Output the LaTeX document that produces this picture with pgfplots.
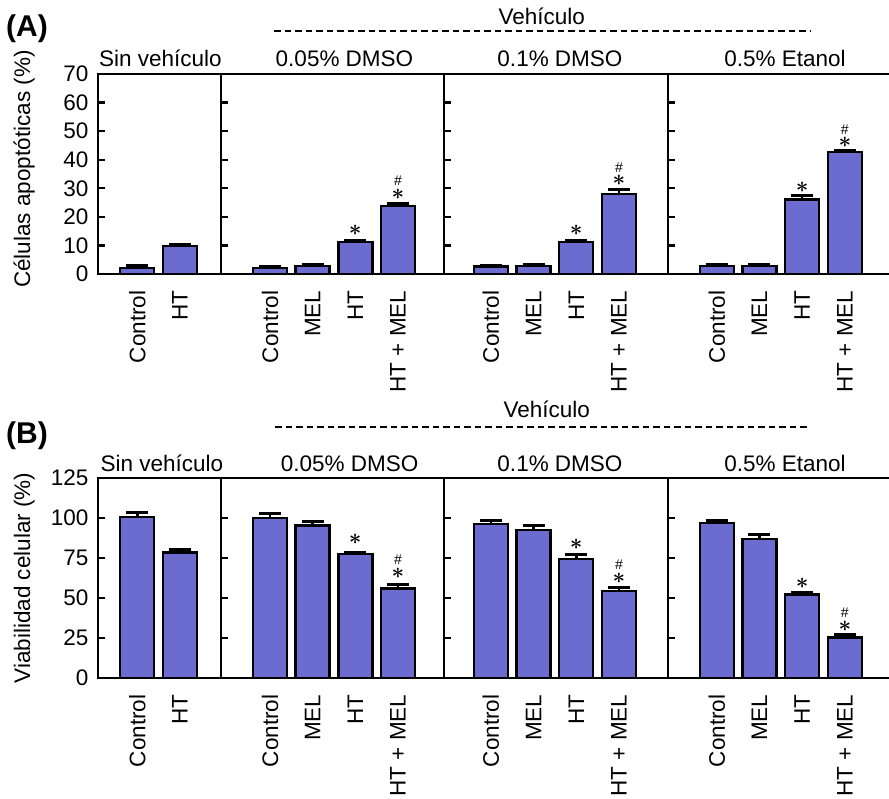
\RequirePackage{fix-cm}
\documentclass[border=0pt]{standalone}
\usepackage{amsmath}
\usepackage{pgfplots}
\pgfplotsset{compat=1.18}
\usepackage{fontspec}
\setmainfont{Liberation Sans}
\definecolor{barblue}{RGB}{108,108,208}
\newcommand{\fs}{\fontsize{22.5}{27}\selectfont}
\newcommand{\st}{\fontsize{22}{26}\selectfont$\boldsymbol{\ast}$}
\newcommand{\hs}{\fontsize{14}{16}\selectfont$\#$}
\tikzset{ann/.style={inner sep=0pt}}
\pgfplotsset{
  sub/.style={
    scale only axis, height=200pt, ymin=0,
    anchor=south west,
    enlargelimits=false, clip=false,
    axis line style={line width=2.4pt},
    tick align=inside, ytick pos=left, xtick pos=bottom,
    major tick length=7pt,
    ytick style={line width=2.4pt, black},
    xtick style={draw=none},
    tick label style={font=\fs},
    /pgf/number format/assume math mode=true,
    xticklabel style={rotate=90, anchor=east, inner sep=0pt},
    yticklabel style={inner sep=0pt},
    xticklabel shift=9.5pt, yticklabel shift=9.5pt,
    ybar, bar width=34pt,
  },
  s1/.style={sub, width=123pt, xmin=-0.92, xmax=1.96, xtick={0,1}, xticklabels={Control,HT}},
  s2/.style={sub, width=223pt, xmin=-1.15, xmax=4.08, xtick={0,1,2,3}, xticklabels={Control,MEL,HT,HT + MEL}, yticklabels={}},
  s3/.style={sub, width=224pt, xmin=-1.10, xmax=4.15, xtick={0,1,2,3}, xticklabels={Control,MEL,HT,HT + MEL}, yticklabels={}},
  s4/.style={sub, width=223pt, xmin=-1.14, xmax=4.08, xtick={0,1,2,3}, xticklabels={Control,MEL,HT,HT + MEL}, yticklabels={}},
  pa/.style={ymax=70, ytick={0,10,...,70}},
  pb/.style={ymax=125, ytick={0,25,...,125}},
  mybar/.style={fill=barblue, draw=black, line width=2.4pt,
    error bars/.cd, y dir=plus, y explicit,
    error bar style={line width=2.6pt, black},
    error mark options={rotate=90, line width=3pt, mark size=11pt, black}},
}
\begin{document}
\begin{tikzpicture}[font=\fs]
\path[use as bounding box] (0pt,0pt) rectangle (889pt,798pt);

% ---------------- Panel A ----------------
\node[anchor=base west, inner sep=0pt, font=\fontsize{30}{34}\selectfont\bfseries] at (6pt,761pt) {(A)};
\node[anchor=base, inner sep=0pt] at (541.7pt,773.5pt) {Vehículo};
\draw[line width=2pt, dash pattern=on 6.5pt off 4pt] (274pt,767.3pt) -- (810pt,767.3pt);
\node[anchor=base, inner sep=0pt] at (160.5pt,731pt) {Sin vehículo};
\node[anchor=base, inner sep=0pt] at (344.5pt,731pt) {0.05\% DMSO};
\node[anchor=base, inner sep=0pt] at (560pt,731pt) {0.1\% DMSO};
\node[anchor=base, inner sep=0pt] at (785pt,731pt) {0.5\% Etanol};
\node[rotate=90, anchor=base, inner sep=0pt] at (30pt,629pt) {Células apoptóticas (\%)};

\begin{axis}[s1, pa, at={(98pt,524pt)}]
\addplot[mybar] coordinates {(0,2.2) +- (0,0.6) (1,9.8) +- (0,0.6)};
\end{axis}
\begin{axis}[s2, pa, at={(221pt,524pt)}]
\addplot[mybar] coordinates {(0,2.2) +- (0,0.5) (1,2.7) +- (0,0.5) (2,11.2) +- (0,0.6) (3,23.9) +- (0,0.6)};
\node[ann, yshift=10pt] at (axis cs:2,11.8) {\st};
\node[ann, yshift=10pt] at (axis cs:3,24.5) {\st};
\node[ann, yshift=23pt] at (axis cs:3,24.5) {\hs};
\end{axis}
\begin{axis}[s3, pa, at={(444pt,524pt)}]
\addplot[mybar] coordinates {(0,2.6) +- (0,0.4) (1,2.9) +- (0,0.4) (2,11.2) +- (0,0.6) (3,28.0) +- (0,1.5)};
\node[ann, yshift=10pt] at (axis cs:2,11.8) {\st};
\node[ann, yshift=9pt] at (axis cs:3,29.5) {\st};
\node[ann, yshift=22pt] at (axis cs:3,29.5) {\hs};
\end{axis}
\begin{axis}[s4, pa, at={(668pt,524pt)}]
\addplot[mybar] coordinates {(0,2.7) +- (0,0.5) (1,2.7) +- (0,0.5) (2,26.1) +- (0,1.3) (3,42.6) +- (0,0.7)};
\node[ann, yshift=8pt] at (axis cs:2,27.4) {\st};
\node[ann, yshift=8pt] at (axis cs:3,43.3) {\st};
\node[ann, yshift=21pt] at (axis cs:3,43.3) {\hs};
\end{axis}

% ---------------- Panel B ----------------
\node[anchor=base west, inner sep=0pt, font=\fontsize{30}{34}\selectfont\bfseries] at (6pt,354.7pt) {(B)};
\node[anchor=base, inner sep=0pt] at (546.7pt,380.7pt) {Vehículo};
\draw[line width=2pt, dash pattern=on 6.5pt off 4pt] (275pt,370.7pt) -- (810pt,370.7pt);
\node[anchor=base, inner sep=0pt] at (162pt,326.3pt) {Sin vehículo};
\node[anchor=base, inner sep=0pt] at (349.7pt,326.3pt) {0.05\% DMSO};
\node[anchor=base, inner sep=0pt] at (560pt,326.3pt) {0.1\% DMSO};
\node[anchor=base, inner sep=0pt] at (785pt,326.3pt) {0.5\% Etanol};
\node[rotate=90, anchor=base, inner sep=0pt] at (30pt,220pt) {Viabilidad celular (\%)};

\begin{axis}[s1, pb, at={(98pt,120pt)}]
\addplot[mybar] coordinates {(0,100.5) +- (0,3) (1,78.5) +- (0,2)};
\end{axis}
\begin{axis}[s2, pb, at={(221pt,120pt)}]
\addplot[mybar] coordinates {(0,100) +- (0,3) (1,95.2) +- (0,2.3) (2,77.5) +- (0,1.2) (3,56) +- (0,2.5)};
\node[ann, yshift=13pt] at (axis cs:2,78.7) {\st};
\node[ann, yshift=11pt] at (axis cs:3,58.5) {\st};
\node[ann, yshift=25pt] at (axis cs:3,58.5) {\hs};
\end{axis}
\begin{axis}[s3, pb, at={(444pt,120pt)}]
\addplot[mybar] coordinates {(0,96.2) +- (0,2.5) (1,92.5) +- (0,2.5) (2,74.4) +- (0,2.5) (3,54.4) +- (0,2.3)};
\node[ann, yshift=11pt] at (axis cs:2,76.9) {\st};
\node[ann, yshift=9pt] at (axis cs:3,56.7) {\st};
\node[ann, yshift=23pt] at (axis cs:3,56.7) {\hs};
\end{axis}
\begin{axis}[s4, pb, at={(668pt,120pt)}]
\addplot[mybar] coordinates {(0,96.9) +- (0,1.5) (1,86.9) +- (0,2.5) (2,52.3) +- (0,1.4) (3,25.4) +- (0,1.7)};
\node[ann, yshift=9pt] at (axis cs:2,53.7) {\st};
\node[ann, yshift=8pt] at (axis cs:3,27.1) {\st};
\node[ann, yshift=22pt] at (axis cs:3,27.1) {\hs};
\end{axis}
\end{tikzpicture}
\end{document}
